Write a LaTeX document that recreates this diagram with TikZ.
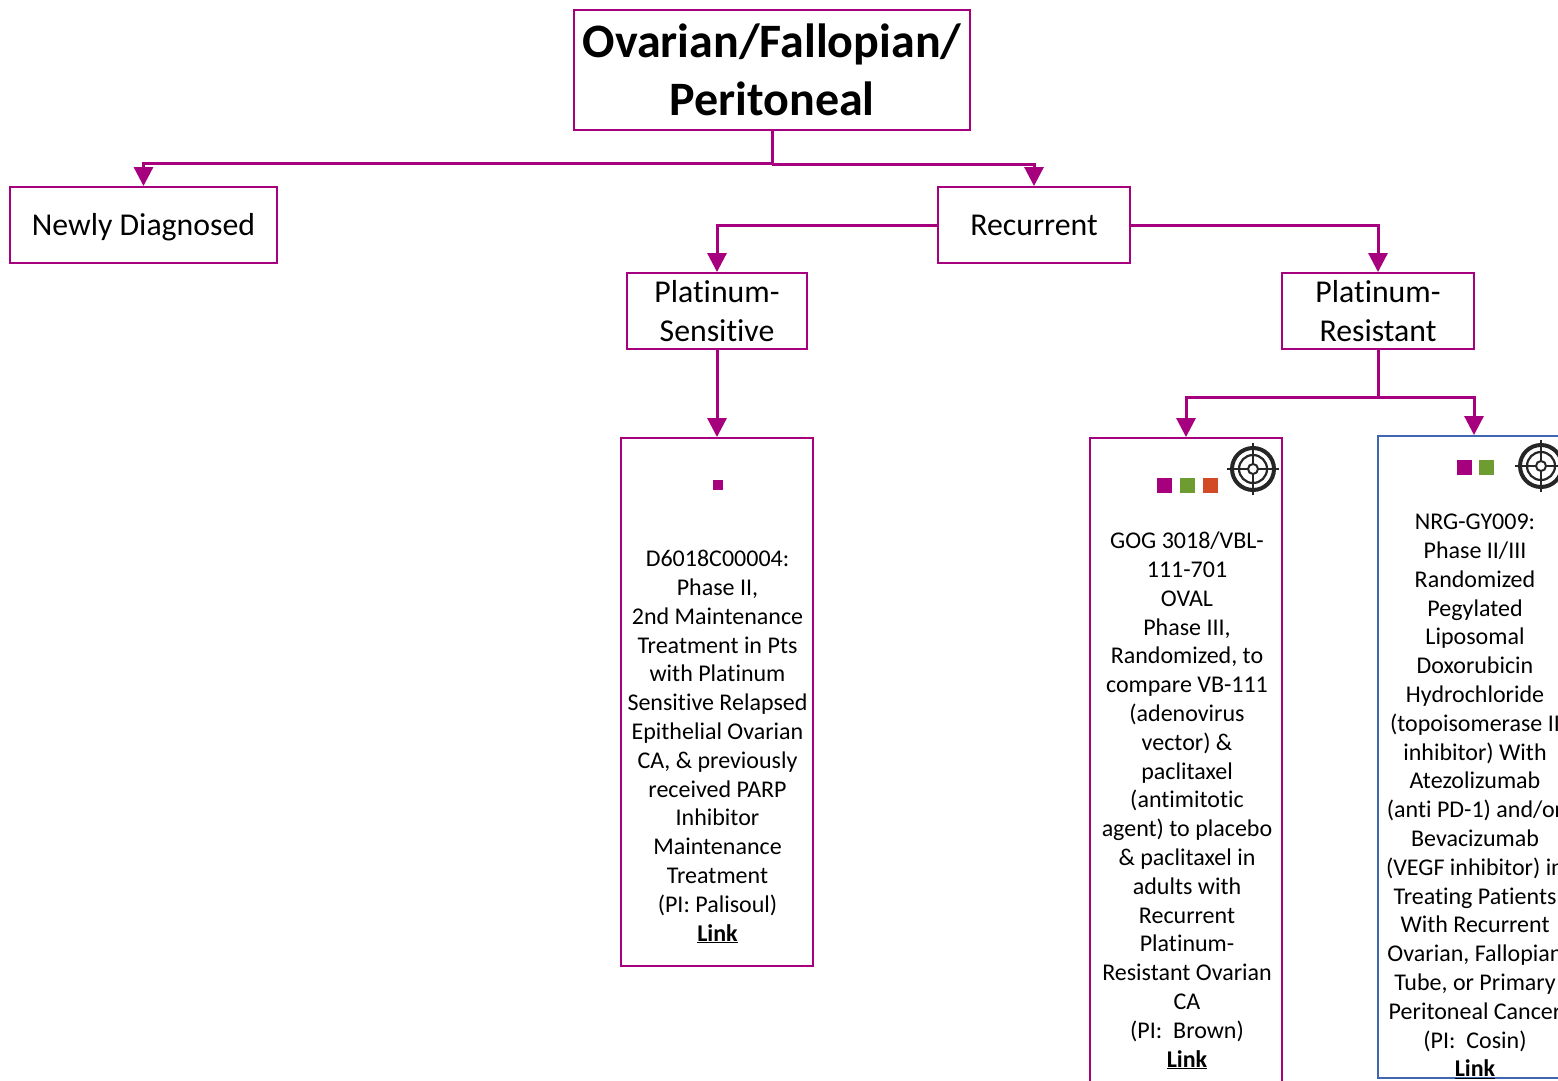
\documentclass[tikz,border=0pt]{standalone}
\usepackage{fontspec}
\setmainfont[Ligatures=NoCommon]{Carlito}
\usetikzlibrary{arrows.meta,positioning}
\definecolor{mag}{HTML}{A6007F}
\definecolor{grn}{HTML}{6F9C30}
\definecolor{org}{HTML}{D24A26}
\definecolor{blu}{HTML}{3F66B0}
\tikzset{
 bx/.style={draw=mag,line width=1.9pt,inner sep=0pt,fill=white},
 bxb/.style={draw=blu,line width=1.9pt,inner sep=0pt,fill=white},
 conn/.style={draw=mag,line width=3pt,-{Triangle[length=19pt,width=19pt]}},
 plain/.style={draw=mag,line width=3pt},
 big/.style={font=\fontsize{48}{58}\selectfont\bfseries,align=center,inner sep=0pt},
 mid/.style={font=\fontsize{31.8}{39}\selectfont,align=center,inner sep=0pt},
 oneline/.style={text height=24pt,text depth=4pt},
 body/.style={font=\fontsize{24}{28.8}\selectfont,align=center,inner sep=0pt},
 sq/.style={minimum size=15pt,inner sep=0pt,outer sep=0pt},
}
\newcommand{\lnk}{\textbf{\underline{Link}}}
\newcommand{\tgt}[1]{%
 \begin{scope}[shift={(#1)},draw=black!85]
  \draw[line width=4pt] (0,0) circle (21pt);
  \draw[line width=2.2pt] (0,0) circle (14pt);
  \draw[line width=2pt] (0,0) circle (5pt);
  \draw[line width=2.4pt] (-26pt,0)--(-5pt,0) (5pt,0)--(26pt,0) (0,-26pt)--(0,-5pt) (0,5pt)--(0,26pt);
 \end{scope}}
\begin{document}
\begin{tikzpicture}[x=1pt,y=-1pt]
\useasboundingbox (0,0) rectangle (1558,1081);
\clip (0,0) rectangle (1558,1081);
\node[bx,minimum width=396pt,minimum height=120pt,big] (title) at (772,70) {Ovarian/Fallopian/\\Peritoneal};
\node[bx,minimum width=267pt,minimum height=76pt,mid,oneline] (newly) at (143.5,225) {Newly Diagnosed};
\node[bx,minimum width=192pt,minimum height=76pt,mid,oneline] (rec) at (1034,225) {Recurrent};
\node[bx,minimum width=180pt,minimum height=76pt,mid] (ps) at (717,311) {Platinum-\\Sensitive};
\node[bx,minimum width=192pt,minimum height=76pt,mid] (pr) at (1378,311) {Platinum-\\Resistant};
\node[bx,minimum width=192pt,minimum height=528pt] (b1) at (717,702) {};
\node[bx,minimum width=192pt,minimum height=660pt] (b2) at (1186,768) {};
\node[bxb,minimum width=192pt,minimum height=642pt] (b3) at (1474,757) {};
\coordinate (j1) at (772,163);
\coordinate (j2) at (1378,397);
\draw[plain] (title.south) -- (j1);
\draw[conn] (j1) -| (newly.north);
\draw[conn] (j1) ++(0,1) -| (rec.north);
\draw[conn] (rec.west) -| (ps.north);
\draw[conn] (rec.east) -| (pr.north);
\draw[conn] (ps.south) -- (b1.north);
\draw[plain] (pr.south) -- (j2);
\draw[conn] (j2) -| (b2.north);
\draw[conn] (j2) -| (b3.north);
\node[sq,fill=mag,minimum size=10pt] (s0) at (718,485) {};
\node[sq,fill=mag] (s1) at (1164.5,485.5) {};
\node[sq,fill=grn] (s2) at (1187.5,485.5) {};
\node[sq,fill=org] (s3) at (1210.5,485.5) {};
\node[sq,fill=mag] (s4) at (1464.5,467.5) {};
\node[sq,fill=grn] (s5) at (1486.5,467.5) {};
\tgt{1253,469}
\tgt{1541,466}
\node[body,anchor=center] (t1) at (717.5,746.7) {D6018C00004:\\Phase II,\\2nd Maintenance\\Treatment in Pts\\with Platinum\\Sensitive Relapsed\\Epithelial Ovarian\\CA, \& previously\\received PARP\\Inhibitor\\Maintenance\\Treatment\\(PI: Palisoul)\\\lnk};
\node[body,anchor=center] (t2) at (1187,800.5) {GOG 3018/VBL-\\111-701\\OVAL\\Phase III,\\Randomized, to\\compare VB-111\\(adenovirus\\vector) \&\\paclitaxel\\(antimitotic\\agent) to placebo\\\& paclitaxel in\\adults with\\Recurrent\\Platinum-\\Resistant Ovarian\\CA\\(PI:\ \ Brown)\\\lnk};
\node[body,anchor=center] (t3) at (1475,796.5) {NRG-GY009:\\Phase II/III\\Randomized\\Pegylated\\Liposomal\\Doxorubicin\\Hydrochloride\\(topoisomerase II\\inhibitor) With\\Atezolizumab\\(anti PD-1) and/or\\Bevacizumab\\(VEGF inhibitor) in\\Treating Patients\\With Recurrent\\Ovarian, Fallopian\\Tube, or Primary\\Peritoneal Cancer\\(PI:\ \ Cosin)\\\lnk};
\end{tikzpicture}
\end{document}
